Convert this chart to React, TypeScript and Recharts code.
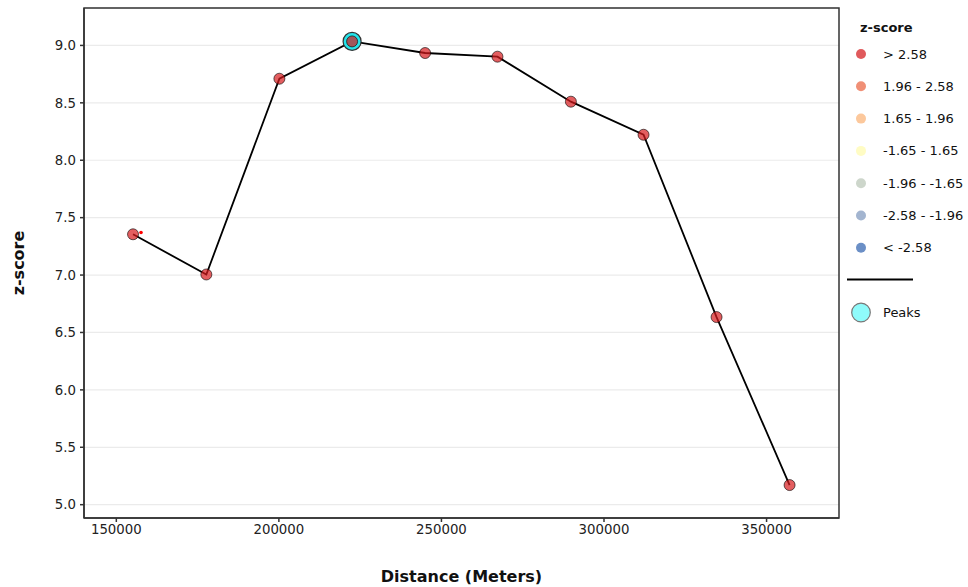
import {
  ComposedChart, Line, Scatter, XAxis, YAxis, CartesianGrid, ReferenceArea,
} from 'recharts';

// distancia a lo largo del perfil (m) y z-score
const distancias = [155140, 177690, 200155, 222520, 244980, 267230, 289820, 312160, 334620, 357080];
const zScores = [7.355, 7.005, 8.71, 9.035, 8.934, 8.902, 8.51, 8.222, 6.634, 5.171];

const picoDist = [222520];
const picoZ = [9.035];

// punto rojo suelto junto al primer valor
const marcaDist = [157600];
const marcaZ = [7.37];

const xTicks = [150000, 200000, 250000, 300000, 350000];
const yTicks = [5.0, 5.5, 6.0, 6.5, 7.0, 7.5, 8.0, 8.5, 9.0];
const X_DOMAIN: [number, number] = [140060, 372280];
const Y_DOMAIN: [number, number] = [4.884, 9.326];

const legendLabels = ['> 2.58', '1.96 - 2.58', '1.65 - 1.96', '-1.65 - 1.65', '-1.96 - -1.65', '-2.58 - -1.96', '< -2.58'];
const legendColors = ['#e05a5c', '#f08f76', '#fcc89c', '#fffcc4', '#cdd6cb', '#a3b5d0', '#6b8fc6'];

const FONT = '"DejaVu Sans", Verdana, sans-serif';

const perfil = distancias.map((d, i) => ({ x: d, z: zScores[i] }));
const picos = picoDist.map((d, i) => ({ x: d, z: picoZ[i] }));
const marcas = marcaDist.map((d, i) => ({ x: d, z: marcaZ[i] }));

// eslint-disable-next-line @typescript-eslint/no-explicit-any
const PuntoZ = (p: any) => (
  <circle cx={p.cx} cy={p.cy} r={5.5} fill="#d7191c" fillOpacity={0.7} stroke="#000" strokeOpacity={0.6} strokeWidth={1} />
);
// eslint-disable-next-line @typescript-eslint/no-explicit-any
const PuntoPico = (p: any) => (
  <circle cx={p.cx} cy={p.cy} r={9} fill="#25e4ea" stroke="#333" strokeWidth={1.2} />
);
// eslint-disable-next-line @typescript-eslint/no-explicit-any
const PuntoMarca = (p: any) => <circle cx={p.cx} cy={p.cy} r={1.8} fill="#ff0000" />;

function LeyendaZ() {
  return (
    <svg width={128} height={340} style={{ fontFamily: FONT, position: 'absolute', left: 840, top: 0 }}>
      <text x={20} y={32} fontSize={13} fontWeight="bold" fill="#111">z-score</text>
      {legendLabels.map((lab, i) => {
        const y = 54 + i * 32.3;
        return (
          <g key={lab}>
            <circle cx={21} cy={y} r={5} fill={legendColors[i]} />
            <text x={43} y={y + 4.5} fontSize={13} fill="#111">{lab}</text>
          </g>
        );
      })}
      <line x1={7} x2={73} y1={279.5} y2={279.5} stroke="#000" strokeWidth={2} />
      <circle cx={21} cy={312.5} r={9.3} fill="#8ffbfb" stroke="#777" strokeWidth={1.2} />
      <text x={43} y={317} fontSize={13} fill="#111">Peaks</text>
    </svg>
  );
}

export default function App() {
  return (
    <div style={{ position: 'absolute', left: 0, top: 0, width: 968, height: 587, background: '#fff' }}>
      <ComposedChart
        width={968}
        height={587}
        data={perfil}
        margin={{ top: 8, right: 129, left: 0, bottom: 0 }}
        style={{ fontFamily: FONT }}
      >
        <CartesianGrid vertical={false} stroke="#ebebeb" strokeWidth={1.2} />
        <XAxis
          type="number"
          dataKey="x"
          domain={X_DOMAIN}
          ticks={xTicks}
          interval={0}
          allowDataOverflow
          height={69}
          tickSize={4}
          tickMargin={3}
          tick={{ fill: '#222', fontSize: 13.3 }}
          stroke="#333"
          strokeWidth={1.5}
          label={{ value: 'Distance (Meters)', position: 'insideBottom', offset: 5, fill: '#111', fontSize: 16, fontWeight: 'bold' }}
        />
        <YAxis
          type="number"
          dataKey="z"
          domain={Y_DOMAIN}
          ticks={yTicks}
          interval={0}
          allowDataOverflow
          width={84}
          tickSize={4}
          tickMargin={4}
          tickFormatter={(v) => v.toFixed(1)}
          tick={{ fill: '#222', fontSize: 13.3 }}
          stroke="#333"
          strokeWidth={1.5}
          label={{ value: 'z-score', angle: -90, position: 'insideLeft', offset: 18, fill: '#111', fontSize: 16, fontWeight: 'bold', style: { textAnchor: 'middle' } }}
        />
        <ReferenceArea x1={X_DOMAIN[0]} x2={X_DOMAIN[1]} y1={Y_DOMAIN[0]} y2={Y_DOMAIN[1]} fill="none" stroke="#333" strokeWidth={1.5} />
        <Line dataKey="z" stroke="#000" strokeWidth={1.8} dot={false} isAnimationActive={false} legendType="none" />
        <Scatter data={picos} dataKey="z" shape={PuntoPico} isAnimationActive={false} legendType="none" />
        <Scatter data={perfil} dataKey="z" shape={PuntoZ} isAnimationActive={false} legendType="none" />
        <Scatter data={marcas} dataKey="z" shape={PuntoMarca} isAnimationActive={false} legendType="none" />
      </ComposedChart>
      <LeyendaZ />
    </div>
  );
}
